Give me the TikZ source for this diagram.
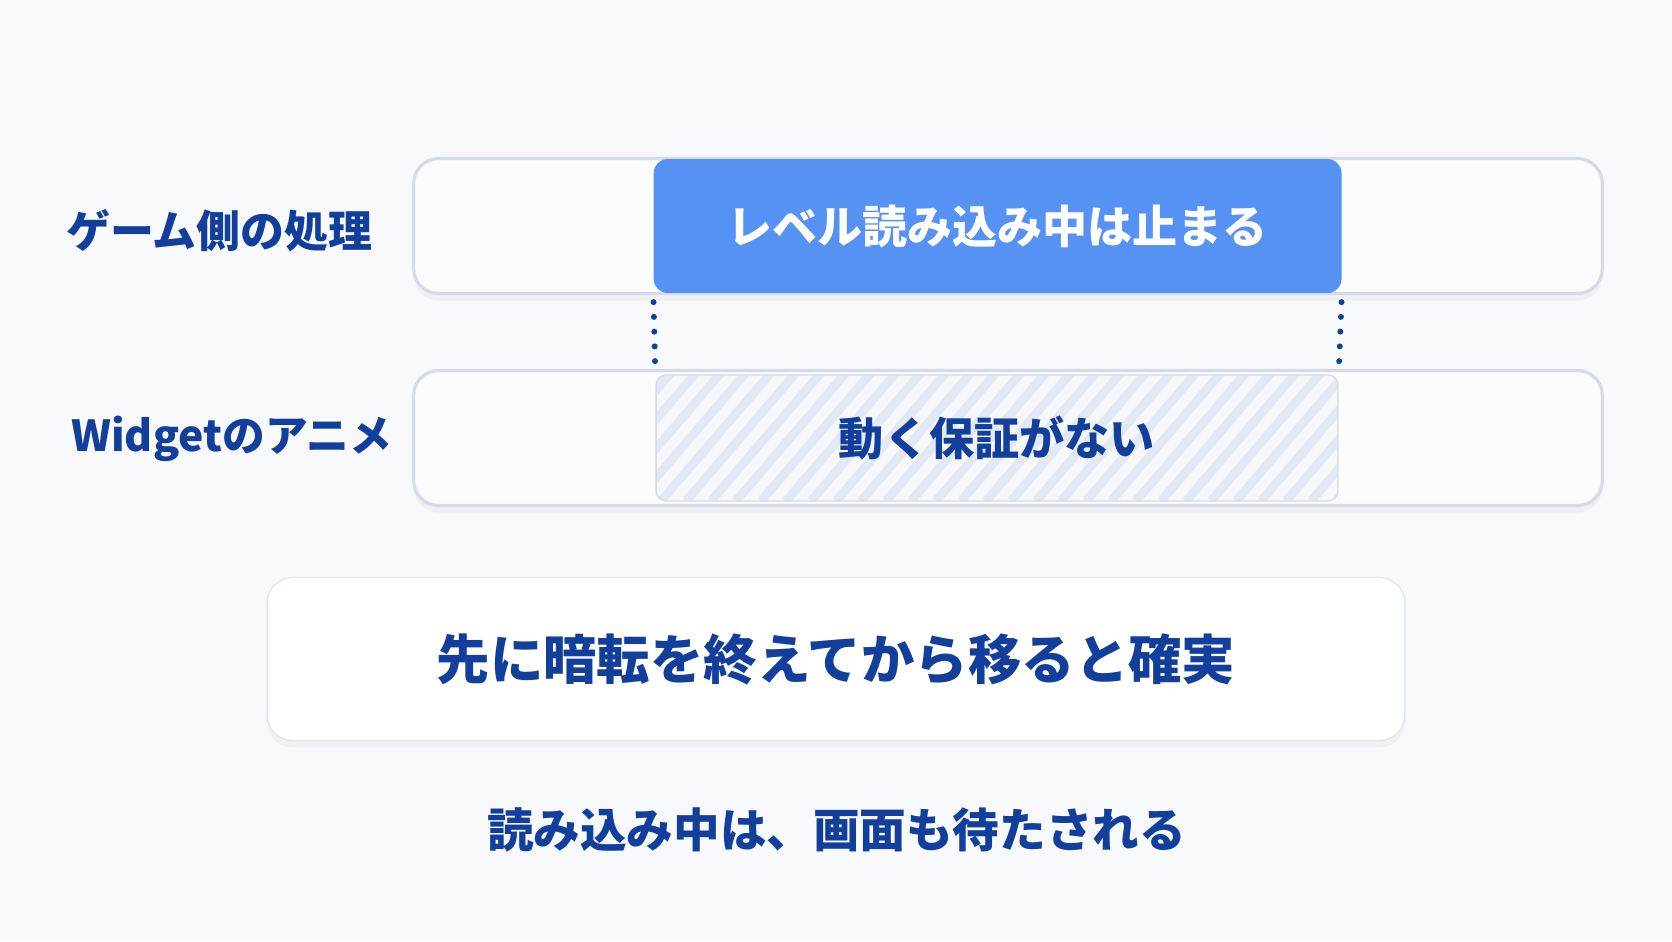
\documentclass[tikz,border=0pt]{standalone}
\usepackage{fontspec}
\setmainfont{Noto Sans CJK JP}
\usetikzlibrary{calc,shadows}

\definecolor{bgcol}{HTML}{F7F9FC}
\definecolor{navy}{HTML}{123E9C}
\definecolor{loadblue}{HTML}{5592F4}
\definecolor{barline}{HTML}{D6DCE7}
\definecolor{cellfill}{HTML}{FBFCFE}
\definecolor{hatchfill}{HTML}{F5F7FB}
\definecolor{hatchline}{HTML}{E3E9F3}

\tikzset{
  bar/.style={draw=barline, line width=1.8pt, fill=cellfill, rounded corners=0.5cm,
    minimum width=23.78cm, minimum height=2.7cm,
    drop shadow={opacity=0.07, shadow xshift=0pt, shadow yshift=-4pt}},
  rowlabel/.style={anchor=west, inner sep=0pt, text=navy, font=\bfseries\fontsize{25}{28}\selectfont},
  dotline/.style={navy, line width=3.4pt, line cap=round, dash pattern=on 0pt off 8.4pt,
    shorten <=5pt, shorten >=6pt}
}

\begin{document}
\begin{tikzpicture}[x=0.02cm, y=-0.02cm]
  % background and page size
  \fill[bgcol] (0,0) rectangle (1672,941);
  \useasboundingbox (0,0) rectangle (1672,941);

  % row labels
  \node[rowlabel] (gamelabel) at (66,231) {ゲーム側の処理};
  \node[rowlabel, font=\bfseries\fontsize{24.3}{28}\selectfont] (animlabel) at (71,439) {Widgetのアニメ};

  % the two timeline bars
  \node[bar] (gamebar) at (1008,226) {};
  \node[bar] (animbar) at (1008,438) {};

  % level loading block
  \node[fill=loadblue, rounded corners=0.28cm, minimum width=13.76cm, minimum height=2.68cm,
        text=white, font=\bfseries\fontsize{25.6}{30}\selectfont] (load) at (997.6,226)
        {レベル読み込み中は止まる};

  % animation block, hatched
  \node[draw=barline, line width=0.8pt, fill=hatchfill, rounded corners=0.2cm,
        minimum width=13.64cm, minimum height=2.52cm,
        text=navy, font=\bfseries\fontsize{25.7}{30}\selectfont,
        path picture={
          \foreach \k in {0,...,34}
            \draw[hatchline, line width=5pt]
              ($(path picture bounding box.south west)+(\k*25-120,0)$) -- ++(120,-140);
        }] (anim) at (997,438) {動く保証がない};

  % dotted guides between the rows
  \draw[dotline] (load.south west) -- (anim.north west);
  \draw[dotline] (load.south east) -- (anim.north east);

  % tip box
  \node[draw=barline!70, line width=0.8pt, fill=white, rounded corners=0.5cm,
        minimum width=22.76cm, minimum height=3.26cm,
        drop shadow={opacity=0.06, shadow xshift=0pt, shadow yshift=-4pt},
        text=navy, font=\bfseries\fontsize{30.4}{36}\selectfont] (tip) at (836,659)
        {先に暗転を終えてから移ると確実};

  % footnote
  \node[text=navy, font=\bfseries\fontsize{26.5}{32}\selectfont] (note) at (836.5,830)
        {読み込み中は、画面も待たされる};
\end{tikzpicture}
\end{document}
